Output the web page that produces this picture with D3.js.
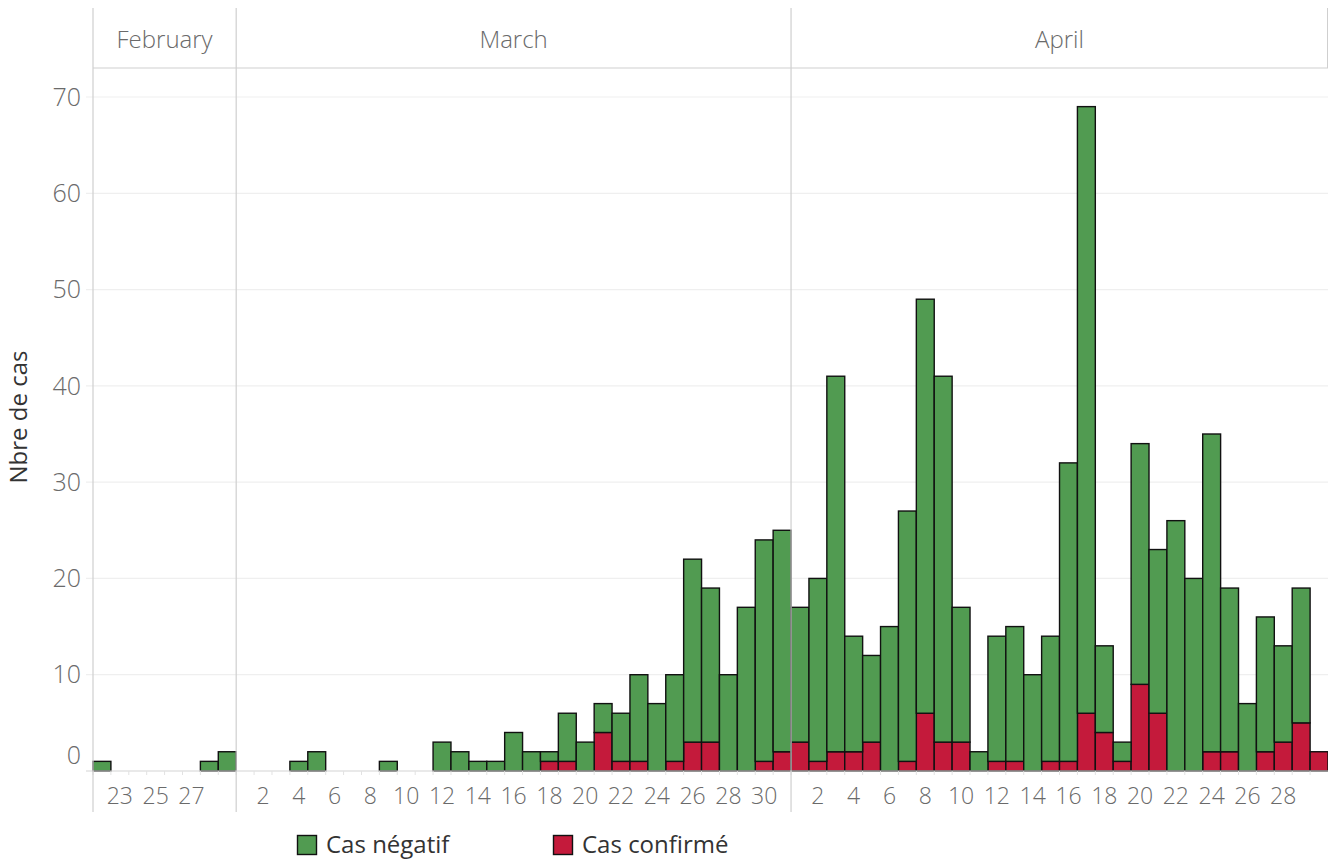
<!DOCTYPE html>
<html>
<head>
<meta charset="utf-8">
<script src="https://cdn.jsdelivr.net/npm/d3@7"></script>
<style>
  body { margin: 0; background: #fff; }
  svg { display: block; font-family: "Open Sans", Lato, sans-serif; }
</style>
</head>
<body>
<div id="chart"></div>
<script>
(function() {
  // data
  var months = ['February', 'March', 'April'];
  var monthDays = [d3.range(22, 30), d3.range(1, 32), d3.range(1, 31)];
  var dayLabels = [[23, 25, 27],
                   [2, 4, 6, 8, 10, 12, 14, 16, 18, 20, 22, 24, 26, 28, 30],
                   [2, 4, 6, 8, 10, 12, 14, 16, 18, 20, 22, 24, 26, 28]];

  var negFeb = [1, 0, 0, 0, 0, 0, 1, 2];
  var confFeb = [0, 0, 0, 0, 0, 0, 0, 0];
  var negMar = [0, 0, 0, 1, 2, 0, 0, 0, 1, 0, 0, 3, 2, 1, 1, 4, 2, 1, 5, 3, 3, 5, 9, 7, 9, 19, 16, 10, 17, 23, 23];
  var confMar = [0, 0, 0, 0, 0, 0, 0, 0, 0, 0, 0, 0, 0, 0, 0, 0, 0, 1, 1, 0, 4, 1, 1, 0, 1, 3, 3, 0, 0, 1, 2];
  var negApr = [14, 19, 39, 12, 9, 15, 26, 43, 38, 14, 2, 13, 14, 10, 13, 31, 63, 9, 2, 25, 17, 26, 20, 33, 17, 7, 14, 10, 14, 0];
  var confApr = [3, 1, 2, 2, 3, 0, 1, 6, 3, 3, 0, 1, 1, 0, 1, 1, 6, 4, 1, 9, 6, 0, 0, 2, 2, 0, 2, 3, 5, 2];

  var yTicks = [0, 10, 20, 30, 40, 50, 60, 70];
  var seriesKeys = ['confirme', 'negatif'];
  var seriesNames = {negatif: 'Cas négatif', confirme: 'Cas confirmé'};
  var colors = {negatif: '#519b51', confirme: '#c41a3b'};

  // layout
  var W = 1328, H = 859,
      left = 93, right = 1328,
      headTop = 8, headBottom = 68,
      yTop = 97, yBase = 771, axisBottom = 812;
  var grey = '#6a6a6a';

  var negs = [negFeb, negMar, negApr], confs = [confFeb, confMar, confApr];
  var rows = [];
  months.forEach(function(m, mi) {
    monthDays[mi].forEach(function(d, di) {
      rows.push({key: m + '-' + d, month: m, day: d,
                 negatif: negs[mi][di], confirme: confs[mi][di]});
    });
  });

  var x = d3.scaleBand().domain(rows.map(function(r) { return r.key; }))
    .range([left, right]).padding(0);
  var y = d3.scaleLinear().domain([0, 70]).range([yBase, yTop]);

  var svg = d3.select('#chart').append('svg')
    .attr('width', W).attr('height', H);

  // gridlines
  svg.append('g').selectAll('line').data(yTicks.slice(1)).join('line')
    .attr('x1', left - 7).attr('x2', right)
    .attr('y1', function(d) { return y(d); }).attr('y2', function(d) { return y(d); })
    .attr('stroke', '#efefef').attr('stroke-width', 1.2);

  // y labels
  svg.append('g').selectAll('text').data(yTicks).join('text')
    .attr('x', 81)
    .attr('y', function(d) { return d === 0 ? y(d) - 16 : y(d); })
    .attr('dy', '0.35em')
    .attr('text-anchor', 'end')
    .attr('font-size', 25).attr('font-weight', 300).attr('fill', grey)
    .text(function(d) { return d; });

  svg.append('text')
    .attr('transform', 'translate(27,' + 417 + ') rotate(-90)')
    .attr('text-anchor', 'middle')
    .attr('font-size', 24).attr('fill', '#333')
    .text('Nbre de cas');

  // bars
  var stacked = d3.stack().keys(seriesKeys)(rows);
  svg.append('g').selectAll('g').data(stacked).join('g')
    .attr('fill', function(s) { return colors[s.key]; })
    .selectAll('rect').data(function(s) { return s.filter(function(d) { return d[1] > d[0]; }); })
    .join('rect')
    .attr('x', function(d) { return x(d.data.key); })
    .attr('width', x.bandwidth())
    .attr('y', function(d) { return y(d[1]); })
    .attr('height', function(d) { return y(d[0]) - y(d[1]); })
    .attr('stroke', '#111').attr('stroke-width', 1.4);

  // baseline + small day ticks
  svg.append('line')
    .attr('x1', left - 7).attr('x2', right)
    .attr('y1', yBase).attr('y2', yBase)
    .attr('stroke', '#d4d4d4').attr('stroke-width', 1.2);
  svg.append('g').selectAll('line').data(rows).join('line')
    .attr('x1', function(d) { return x(d.key); }).attr('x2', function(d) { return x(d.key); })
    .attr('y1', yBase).attr('y2', yBase + 4)
    .attr('stroke', '#e2e2e2');

  // month panels
  var monthStart = months.map(function(m, mi) { return x(m + '-' + monthDays[mi][0]); });
  var monthEnd = months.map(function(m, mi) {
    return x(m + '-' + monthDays[mi][monthDays[mi].length - 1]) + x.bandwidth();
  });

  svg.append('g').selectAll('line').data(monthStart).join('line')
    .attr('x1', function(d) { return d; }).attr('x2', function(d) { return d; })
    .attr('y1', headTop).attr('y2', axisBottom)
    .attr('stroke', '#cfcfcf').attr('stroke-width', 1.2);
  svg.append('line')
    .attr('x1', right - 0.5).attr('x2', right - 0.5)
    .attr('y1', headTop).attr('y2', headBottom)
    .attr('stroke', '#cfcfcf');
  svg.append('line')
    .attr('x1', left).attr('x2', right)
    .attr('y1', headBottom).attr('y2', headBottom)
    .attr('stroke', '#cfcfcf').attr('stroke-width', 1.2);

  svg.append('g').selectAll('text').data(months).join('text')
    .attr('x', function(d, i) { return (monthStart[i] + monthEnd[i]) / 2; })
    .attr('y', 40).attr('dy', '0.35em')
    .attr('text-anchor', 'middle')
    .attr('font-size', 24).attr('font-weight', 300).attr('fill', grey)
    .text(function(d) { return d; });

  // day labels
  months.forEach(function(m, mi) {
    svg.append('g').selectAll('text').data(dayLabels[mi]).join('text')
      .attr('x', function(d) { return x(m + '-' + d) + x.bandwidth() / 2; })
      .attr('y', 796).attr('dy', '0.35em')
      .attr('text-anchor', 'middle')
      .attr('font-size', 23).attr('font-weight', 300).attr('fill', grey)
      .text(function(d) { return d; });
  });

  // legend
  var legend = [{key: 'negatif', x: 297}, {key: 'confirme', x: 553}];
  var lg = svg.append('g').selectAll('g').data(legend).join('g')
    .attr('transform', function(d) { return 'translate(' + d.x + ',835)'; });
  lg.append('rect')
    .attr('x', 0.5).attr('y', 0.5).attr('width', 19).attr('height', 19)
    .attr('fill', function(d) { return colors[d.key]; })
    .attr('stroke', '#111').attr('stroke-width', 1.4);
  lg.append('text')
    .attr('x', 29).attr('y', 10).attr('dy', '0.35em')
    .attr('font-size', 24).attr('fill', '#333')
    .text(function(d) { return seriesNames[d.key]; });
})();
</script>
</body>
</html>
